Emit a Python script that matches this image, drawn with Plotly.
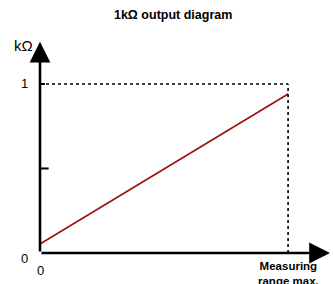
import plotly.graph_objects as go

x_vals = [0, 1]
y_vals = [0.053, 0.94]
y_tickvals = [0, 1]
y_ticktext = ["0", "1"]
x_tickvals = [0, 1]
x_ticktext = ["0", "<b>Measuring<br>range max.</b>"]
title_text = "<b>1kΩ output diagram</b>"
y_unit = "kΩ"

X_MAX = 1.169
Y_MAX = 1.26

fig = go.Figure()
fig.add_trace(go.Scatter(x=x_vals, y=y_vals, mode="lines",
                         line=dict(color="#a01010", width=1.7), hoverinfo="skip"))

# dotted reference lines
fig.add_shape(type="line", x0=0, x1=1, y0=1, y1=1, xref="x", yref="y",
              line=dict(color="black", width=1.6, dash="dot"))
fig.add_shape(type="line", x0=1, x1=1, y0=0, y1=1, xref="x", yref="y",
              line=dict(color="black", width=1.6, dash="dot"))
# tick marks
fig.add_shape(type="line", x0=-0.012, x1=0.02, y0=1, y1=1, xref="x", yref="y",
              line=dict(color="black", width=2))
fig.add_shape(type="line", x0=0, x1=0.035, y0=0.5, y1=0.5, xref="x", yref="y",
              line=dict(color="black", width=2))
fig.add_shape(type="line", x0=1, x1=1, y0=0, y1=-0.03, xref="x", yref="y",
              line=dict(color="black", width=2))

# axes with arrows
fig.add_annotation(x=0, y=Y_MAX - 0.01, ax=0, ay=0, xref="x", yref="y", axref="x", ayref="y",
                   showarrow=True, arrowhead=2, arrowsize=1.6, arrowwidth=2.6,
                   arrowcolor="black", text="")
fig.add_annotation(x=X_MAX, y=0, ax=0, ay=0, xref="x", yref="y", axref="x", ayref="y",
                   showarrow=True, arrowhead=2, arrowsize=1.6, arrowwidth=2.6,
                   arrowcolor="black", text="")

def px_x(v):
    return v / X_MAX

def px_y(v):
    return v / Y_MAX

lab_x = -16 / 290.0

# unit label
fig.add_annotation(x=-17 / 290.0, y=px_y(1.225), xref="paper", yref="paper", text=y_unit,
                   showarrow=False, xanchor="center", yanchor="middle",
                   font=dict(size=15, color="black"))

# y tick labels
for v, t in zip(y_tickvals, y_ticktext):
    fig.add_annotation(x=lab_x, y=px_y(v), xref="paper", yref="paper", text=t,
                       showarrow=False, xanchor="center", yanchor="middle",
                       yshift=-5 if v == 0 else 0, font=dict(size=13, color="black"))
# x tick labels
for v, t in zip(x_tickvals, x_ticktext):
    fig.add_annotation(x=px_x(v), y=0, xref="paper", yref="paper", text=t,
                       showarrow=False, xanchor="center", yanchor="top",
                       yshift=-8 if v == 0 else -5,
                       font=dict(size=13 if v == 0 else 11.5, color="black"))

fig.update_layout(
    width=333, height=284,
    margin=dict(l=40, r=3, t=40, b=31),
    paper_bgcolor="white", plot_bgcolor="white",
    showlegend=False,
    font=dict(family="Liberation Sans, Arial, sans-serif", color="black", size=12),
    title=dict(text=title_text, x=0.52, xanchor="center", y=0.947, yanchor="middle",
               font=dict(size=12.5)),
    xaxis=dict(range=[0, X_MAX], showgrid=False, zeroline=False, showline=False,
               showticklabels=False, ticks="", fixedrange=True, automargin=False),
    yaxis=dict(range=[0, Y_MAX], showgrid=False, zeroline=False, showline=False,
               showticklabels=False, ticks="", fixedrange=True, automargin=False),
)
fig.write_html("out.html", config={"displayModeBar": False},
               post_script="document.body.style.margin='0';document.body.style.overflow='hidden';")
